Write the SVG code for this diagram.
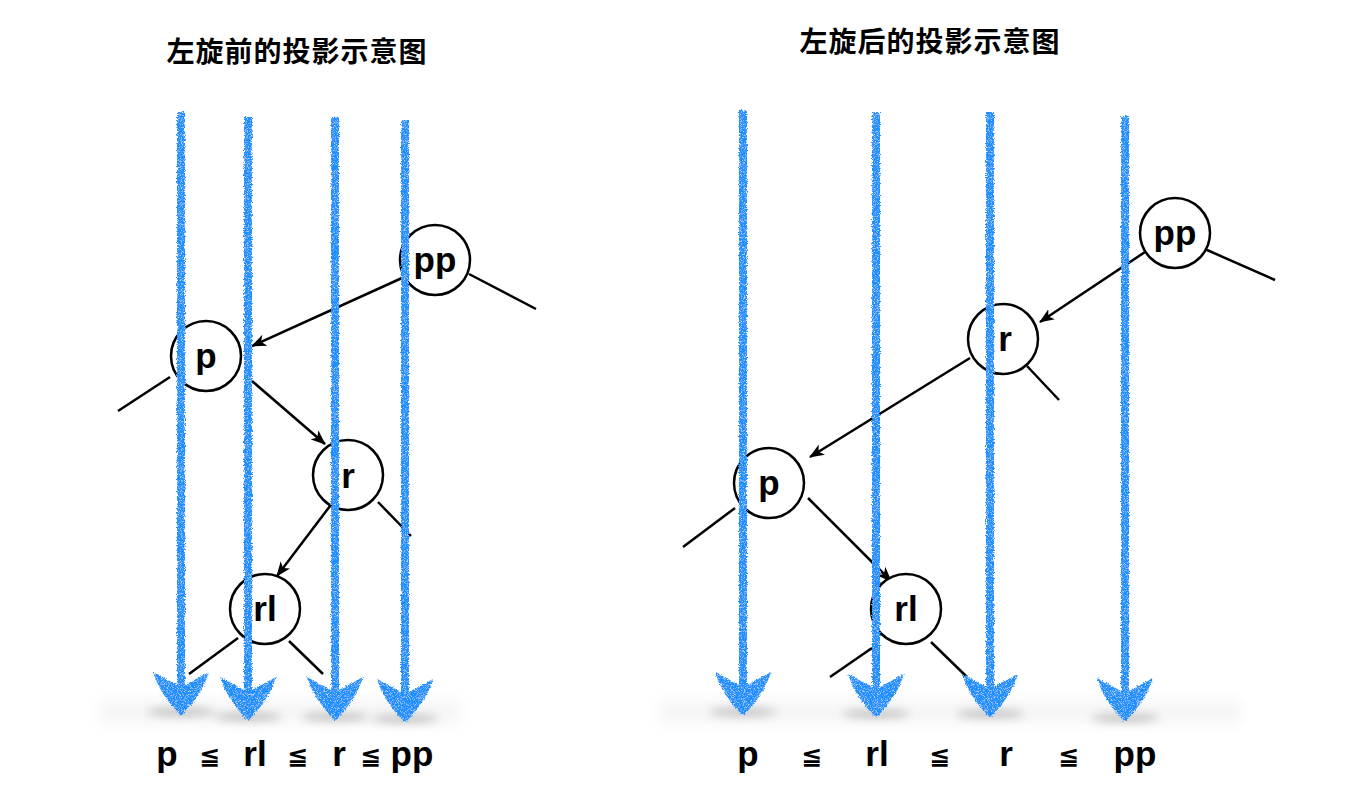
<svg xmlns="http://www.w3.org/2000/svg" width="1362" height="800" viewBox="0 0 1362 800">
<style>
.title{font-family:"Noto Sans CJK SC","Noto Sans CJK JP",sans-serif;font-size:28px;font-weight:bold;fill:#000;text-anchor:middle;letter-spacing:1px}
.lbl{font-family:"Liberation Sans",Arial,sans-serif;font-size:35px;font-weight:bold;fill:#000;text-anchor:middle}
.le{font-family:"DejaVu Sans",sans-serif;font-size:25px;font-weight:bold;fill:#000;text-anchor:middle}
.node circle{fill:#fff;stroke:#000;stroke-width:2.5}
.conn path{fill:none;stroke:#000;stroke-width:2.5}
.proj{fill:#1e90ff;stroke:none}
</style>
<defs>
<marker id="ah" markerUnits="userSpaceOnUse" markerWidth="15" markerHeight="12" viewBox="0 0 15 12" refX="14" refY="6" orient="auto">
<path d="M0,0 L15,6 L0,12 L4,6 Z" fill="#000"/>
</marker>
<filter id="crayon" x="-30%" y="-3%" width="160%" height="106%">
<feTurbulence type="fractalNoise" baseFrequency="0.9" numOctaves="2" seed="3" result="n"/>
<feDisplacementMap in="SourceGraphic" in2="n" scale="4" xChannelSelector="R" yChannelSelector="G" result="d"/>
<feTurbulence type="fractalNoise" baseFrequency="1.3" numOctaves="1" seed="7" result="n2"/>
<feColorMatrix in="n2" type="matrix" values="0 0 0 0 1 0 0 0 0 1 0 0 0 0 1 2.5 0 0 0 -1.3" result="spots"/>
<feComposite in="spots" in2="d" operator="in" result="s2"/>
<feMerge><feMergeNode in="d"/><feMergeNode in="s2"/></feMerge>
</filter>
<filter id="blur" x="-50%" y="-300%" width="200%" height="700%">
<feGaussianBlur stdDeviation="5"/>
</filter>
<filter id="blur2" x="-10%" y="-100%" width="120%" height="300%">
<feGaussianBlur stdDeviation="8"/>
</filter>
</defs>
<rect width="1362" height="800" fill="#fff"/>

<text class="title" x="297" y="62">左旋前的投影示意图</text>
<text class="title" x="930" y="52">左旋后的投影示意图</text>

<g id="connectors" class="conn">
<path d="M402,278 L252,346" marker-end="url(#ah)"/>
<path d="M469,274 L536,309"/>
<path d="M170,377 L118,411"/>
<path d="M252,381 L325,444" marker-end="url(#ah)"/>
<path d="M330,506 L277,576" marker-end="url(#ah)"/>
<path d="M378,502 L411,536"/>
<path d="M238,638 L189,674"/>
<path d="M289,641 L323,674"/>
<path d="M1145,252 L1040,322" marker-end="url(#ah)"/>
<path d="M1207,250 L1275,280"/>
<path d="M970,358 L810,457" marker-end="url(#ah)"/>
<path d="M1027,366 L1059,400"/>
<path d="M735,508 L683,547"/>
<path d="M808,498 L891,581" marker-end="url(#ah)"/>
<path d="M872,648 L830,677"/>
<path d="M931,642 L967,677"/>
</g>

<g id="node-left-pp" class="node"><circle cx="435" cy="260" r="35"/><text class="lbl" x="435" y="272">pp</text></g>
<g id="node-left-p" class="node"><circle cx="206" cy="356" r="35"/><text class="lbl" x="206" y="368">p</text></g>
<g id="node-left-r" class="node"><circle cx="348" cy="475" r="35"/><text class="lbl" x="348" y="488">r</text></g>
<g id="node-left-rl" class="node"><circle cx="265" cy="609" r="35"/><text class="lbl" x="265" y="621">rl</text></g>

<g id="node-right-pp" class="node"><circle cx="1175" cy="233" r="35"/><text class="lbl" x="1175" y="245">pp</text></g>
<g id="node-right-r" class="node"><circle cx="1003" cy="339" r="35"/><text class="lbl" x="1005" y="351">r</text></g>
<g id="node-right-p" class="node"><circle cx="769" cy="483" r="35"/><text class="lbl" x="769" y="495">p</text></g>
<g id="node-right-rl" class="node"><circle cx="906" cy="609" r="35"/><text class="lbl" x="906" y="621">rl</text></g>

<g id="shadows">
<rect x="100" y="700" width="360" height="24" fill="#000" opacity="0.04" filter="url(#blur2)"/>
<rect x="660" y="700" width="580" height="24" fill="#000" opacity="0.04" filter="url(#blur2)"/>
<g fill="#000" opacity="0.22" filter="url(#blur)">
<ellipse cx="181" cy="712" rx="34" ry="4"/>
<ellipse cx="248" cy="717" rx="34" ry="4"/>
<ellipse cx="335" cy="717" rx="34" ry="4"/>
<ellipse cx="405" cy="719" rx="34" ry="4"/>
<ellipse cx="743" cy="712" rx="34" ry="4"/>
<ellipse cx="876" cy="714" rx="34" ry="4"/>
<ellipse cx="990" cy="714" rx="34" ry="4"/>
<ellipse cx="1125" cy="718" rx="34" ry="4"/>
</g>
</g>

<g id="projections" class="proj">
<path filter="url(#crayon)" d="M177,112 H185 V685 L209,672 Q203,693 182,715 H180 Q159,693 153,672 L177,685 Z"/>
<path filter="url(#crayon)" d="M244,117 H252 V690 L276,677 Q270,698 249,720 H247 Q226,698 220,677 L244,690 Z"/>
<path filter="url(#crayon)" d="M331,117 H339 V690 L363,677 Q357,698 336,720 H334 Q313,698 307,677 L331,690 Z"/>
<path filter="url(#crayon)" d="M401,120 H409 V692 L433,679 Q427,700 406,722 H404 Q383,700 377,679 L401,692 Z"/>
<path filter="url(#crayon)" d="M739,110 H747 V685 L771,672 Q765,693 744,715 H742 Q721,693 715,672 L739,685 Z"/>
<path filter="url(#crayon)" d="M872,112 H880 V687 L904,674 Q898,695 877,717 H875 Q854,695 848,674 L872,687 Z"/>
<path filter="url(#crayon)" d="M986,112 H994 V687 L1018,674 Q1012,695 991,717 H989 Q968,695 962,674 L986,687 Z"/>
<path filter="url(#crayon)" d="M1121,116 H1129 V691 L1153,678 Q1147,699 1126,721 H1124 Q1103,699 1097,678 L1121,691 Z"/>
</g>

<g id="order-left">
<text class="lbl" x="167" y="766">p</text>
<text class="le" x="210" y="764">≦</text>
<text class="lbl" x="255" y="766">rl</text>
<text class="le" x="298" y="764">≦</text>
<text class="lbl" x="339" y="766">r</text>
<text class="le" x="371" y="764">≦</text>
<text class="lbl" x="412" y="766">pp</text>
</g>
<g id="order-right">
<text class="lbl" x="748" y="766">p</text>
<text class="le" x="812" y="764">≦</text>
<text class="lbl" x="877" y="766">rl</text>
<text class="le" x="940" y="764">≦</text>
<text class="lbl" x="1006" y="766">r</text>
<text class="le" x="1069" y="764">≦</text>
<text class="lbl" x="1135" y="766">pp</text>
</g>
</svg>
